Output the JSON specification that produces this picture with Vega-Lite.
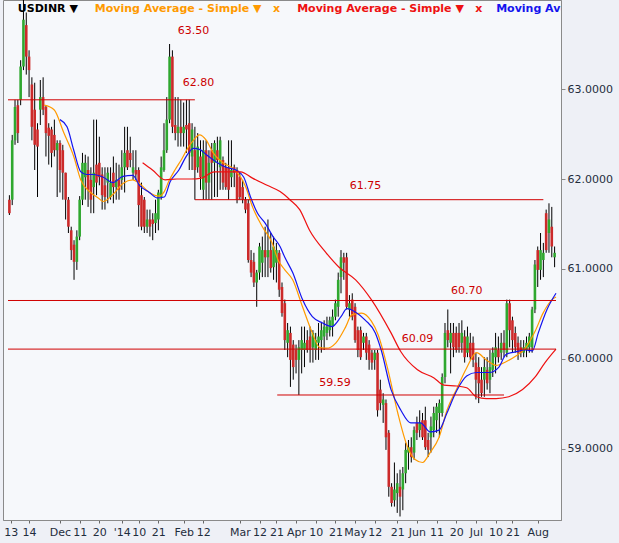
{
  "$schema": "https://vega.github.io/schema/vega-lite/v6.json",
  "width": 558,
  "height": 520,
  "autosize": {"type": "none"},
  "padding": {"left": 3, "top": 0, "right": 58, "bottom": 23},
  "background": "#eef0f6",
  "config": {
    "view": {"fill": "#f6f8fb", "stroke": "#8a8a8a"},
    "font": "DejaVu Sans"
  },
  "datasets": {
    "candles": [
      {"i":0,"o":61.77,"h":61.82,"l":61.60,"c":61.62},
      {"i":1,"o":61.77,"h":62.49,"l":61.71,"c":62.43},
      {"i":2,"o":62.43,"h":62.88,"l":62.38,"c":62.80},
      {"i":3,"o":62.82,"h":62.88,"l":62.40,"c":62.51},
      {"i":4,"o":62.88,"h":63.32,"l":62.82,"c":63.25},
      {"i":5,"o":63.25,"h":64.05,"l":63.21,"c":63.77},
      {"i":6,"o":63.71,"h":63.85,"l":63.16,"c":63.36},
      {"i":7,"o":63.36,"h":63.43,"l":62.91,"c":63.21},
      {"i":8,"o":63.05,"h":63.13,"l":62.43,"c":62.58},
      {"i":9,"o":62.77,"h":63.07,"l":62.10,"c":62.38},
      {"i":10,"o":62.55,"h":62.62,"l":61.80,"c":62.36},
      {"i":11,"o":62.77,"h":63.10,"l":62.60,"c":62.91},
      {"i":12,"o":62.91,"h":63.13,"l":62.71,"c":62.77},
      {"i":13,"o":62.80,"h":62.82,"l":62.25,"c":62.51},
      {"i":14,"o":62.57,"h":62.62,"l":62.16,"c":62.48},
      {"i":15,"o":62.55,"h":62.58,"l":62.13,"c":62.29},
      {"i":16,"o":62.49,"h":62.66,"l":62.25,"c":62.32},
      {"i":17,"o":62.32,"h":62.43,"l":61.80,"c":62.40},
      {"i":18,"o":62.40,"h":62.43,"l":61.85,"c":62.10},
      {"i":19,"o":62.32,"h":62.38,"l":61.77,"c":62.07},
      {"i":20,"o":62.07,"h":62.07,"l":61.55,"c":61.77},
      {"i":21,"o":61.77,"h":61.80,"l":61.40,"c":61.47},
      {"i":22,"o":61.43,"h":61.47,"l":61.10,"c":61.21},
      {"i":23,"o":61.27,"h":61.32,"l":60.88,"c":61.08},
      {"i":24,"o":61.08,"h":61.43,"l":60.99,"c":61.36},
      {"i":25,"o":61.36,"h":61.81,"l":61.32,"c":61.77},
      {"i":26,"o":61.77,"h":62.29,"l":61.71,"c":62.18},
      {"i":27,"o":62.02,"h":62.27,"l":61.77,"c":62.18},
      {"i":28,"o":62.10,"h":62.25,"l":61.69,"c":61.88},
      {"i":29,"o":61.99,"h":62.13,"l":61.62,"c":61.77},
      {"i":30,"o":61.91,"h":62.66,"l":61.62,"c":62.07},
      {"i":31,"o":62.16,"h":62.66,"l":61.82,"c":61.96},
      {"i":32,"o":62.18,"h":62.47,"l":61.93,"c":62.02},
      {"i":33,"o":62.05,"h":62.13,"l":61.66,"c":61.82},
      {"i":34,"o":61.93,"h":62.13,"l":61.66,"c":61.80},
      {"i":35,"o":61.96,"h":62.13,"l":61.73,"c":62.07},
      {"i":36,"o":61.80,"h":62.13,"l":61.77,"c":61.96},
      {"i":37,"o":62.07,"h":62.25,"l":61.73,"c":61.91},
      {"i":38,"o":61.91,"h":62.18,"l":61.77,"c":61.99},
      {"i":39,"o":61.99,"h":62.16,"l":61.77,"c":61.88},
      {"i":40,"o":61.99,"h":62.32,"l":61.88,"c":62.13},
      {"i":41,"o":62.13,"h":62.58,"l":61.85,"c":62.29},
      {"i":42,"o":62.32,"h":62.58,"l":62.10,"c":62.13},
      {"i":43,"o":62.29,"h":62.47,"l":62.13,"c":62.21},
      {"i":44,"o":62.07,"h":62.32,"l":61.99,"c":62.13},
      {"i":45,"o":62.10,"h":62.32,"l":61.99,"c":62.05},
      {"i":46,"o":62.10,"h":62.13,"l":61.47,"c":61.71},
      {"i":47,"o":61.82,"h":61.96,"l":61.43,"c":61.47},
      {"i":48,"o":61.77,"h":61.80,"l":61.40,"c":61.47},
      {"i":49,"o":61.47,"h":61.66,"l":61.40,"c":61.55},
      {"i":50,"o":61.55,"h":61.66,"l":61.36,"c":61.47},
      {"i":51,"o":61.55,"h":61.62,"l":61.32,"c":61.50},
      {"i":52,"o":61.51,"h":61.77,"l":61.40,"c":61.62},
      {"i":53,"o":61.55,"h":61.88,"l":61.43,"c":61.85},
      {"i":54,"o":61.80,"h":62.25,"l":61.77,"c":62.13},
      {"i":55,"o":62.10,"h":62.62,"l":62.08,"c":62.32},
      {"i":56,"o":62.32,"h":62.91,"l":62.29,"c":62.66},
      {"i":57,"o":62.66,"h":63.50,"l":62.62,"c":63.36},
      {"i":58,"o":63.36,"h":63.43,"l":62.51,"c":62.58},
      {"i":59,"o":62.60,"h":62.91,"l":62.43,"c":62.51},
      {"i":60,"o":62.51,"h":62.91,"l":62.36,"c":62.58},
      {"i":61,"o":62.58,"h":62.88,"l":62.36,"c":62.51},
      {"i":62,"o":62.51,"h":62.85,"l":62.36,"c":62.58},
      {"i":63,"o":62.60,"h":62.88,"l":62.29,"c":62.55},
      {"i":64,"o":62.62,"h":62.88,"l":62.10,"c":62.29},
      {"i":65,"o":62.25,"h":62.62,"l":62.10,"c":62.55},
      {"i":66,"o":62.32,"h":62.58,"l":61.77,"c":62.10},
      {"i":67,"o":62.13,"h":62.51,"l":62.07,"c":62.36},
      {"i":68,"o":62.25,"h":62.43,"l":61.88,"c":62.02},
      {"i":69,"o":61.88,"h":62.43,"l":61.77,"c":62.32},
      {"i":70,"o":62.32,"h":62.43,"l":61.77,"c":61.96},
      {"i":71,"o":61.96,"h":62.32,"l":61.77,"c":62.18},
      {"i":72,"o":62.32,"h":62.40,"l":61.77,"c":62.18},
      {"i":73,"o":62.18,"h":62.43,"l":61.80,"c":62.40},
      {"i":74,"o":62.32,"h":62.47,"l":61.80,"c":62.21},
      {"i":75,"o":62.13,"h":62.47,"l":61.88,"c":62.43},
      {"i":76,"o":62.21,"h":62.25,"l":61.88,"c":61.96},
      {"i":77,"o":62.13,"h":62.18,"l":61.88,"c":61.91},
      {"i":78,"o":62.13,"h":62.43,"l":61.77,"c":61.88},
      {"i":79,"o":62.02,"h":62.43,"l":61.91,"c":62.10},
      {"i":80,"o":62.13,"h":62.16,"l":61.91,"c":62.07},
      {"i":81,"o":62.10,"h":62.13,"l":61.73,"c":61.77},
      {"i":82,"o":62.02,"h":62.07,"l":61.77,"c":61.80},
      {"i":83,"o":61.91,"h":61.99,"l":61.73,"c":61.77},
      {"i":84,"o":61.77,"h":61.80,"l":61.62,"c":61.66},
      {"i":85,"o":61.73,"h":61.77,"l":61.07,"c":61.10},
      {"i":86,"o":61.10,"h":61.21,"l":60.91,"c":60.96},
      {"i":87,"o":61.08,"h":61.18,"l":60.80,"c":60.85},
      {"i":88,"o":60.85,"h":60.99,"l":60.58,"c":60.96},
      {"i":89,"o":60.96,"h":61.29,"l":60.88,"c":61.25},
      {"i":90,"o":61.07,"h":61.36,"l":60.91,"c":61.21},
      {"i":91,"o":61.21,"h":61.47,"l":60.91,"c":61.13},
      {"i":92,"o":61.13,"h":61.55,"l":60.91,"c":61.21},
      {"i":93,"o":61.21,"h":61.40,"l":60.96,"c":61.01},
      {"i":94,"o":61.02,"h":61.36,"l":60.88,"c":61.25},
      {"i":95,"o":61.07,"h":61.29,"l":60.85,"c":61.21},
      {"i":96,"o":61.18,"h":61.21,"l":60.69,"c":60.77},
      {"i":97,"o":60.80,"h":60.85,"l":60.47,"c":60.51},
      {"i":98,"o":60.62,"h":60.66,"l":60.10,"c":60.21},
      {"i":99,"o":60.18,"h":60.40,"l":60.02,"c":60.32},
      {"i":100,"o":60.29,"h":60.36,"l":59.69,"c":59.99},
      {"i":101,"o":60.16,"h":60.21,"l":59.77,"c":59.91},
      {"i":102,"o":60.10,"h":60.16,"l":59.84,"c":59.99},
      {"i":103,"o":59.99,"h":60.21,"l":59.60,"c":60.13},
      {"i":104,"o":60.10,"h":60.36,"l":59.84,"c":60.21},
      {"i":105,"o":60.10,"h":60.36,"l":59.91,"c":60.18},
      {"i":106,"o":60.21,"h":60.32,"l":60.07,"c":60.10},
      {"i":107,"o":60.25,"h":60.36,"l":59.96,"c":60.10},
      {"i":108,"o":60.13,"h":60.32,"l":59.96,"c":60.29},
      {"i":109,"o":60.10,"h":60.29,"l":59.99,"c":60.21},
      {"i":110,"o":60.18,"h":60.40,"l":59.99,"c":60.25},
      {"i":111,"o":60.21,"h":60.40,"l":60.07,"c":60.32},
      {"i":112,"o":60.25,"h":60.43,"l":60.10,"c":60.36},
      {"i":113,"o":60.29,"h":60.47,"l":60.21,"c":60.36},
      {"i":114,"o":60.32,"h":60.47,"l":60.25,"c":60.43},
      {"i":115,"o":60.36,"h":60.55,"l":60.25,"c":60.47},
      {"i":116,"o":60.47,"h":60.66,"l":60.43,"c":60.62},
      {"i":117,"o":60.58,"h":60.96,"l":60.47,"c":60.88},
      {"i":118,"o":60.91,"h":61.21,"l":60.73,"c":61.13},
      {"i":119,"o":61.13,"h":61.18,"l":60.88,"c":61.07},
      {"i":120,"o":61.13,"h":61.18,"l":60.55,"c":60.58},
      {"i":121,"o":60.55,"h":60.71,"l":60.47,"c":60.62},
      {"i":122,"o":60.66,"h":60.73,"l":60.43,"c":60.47},
      {"i":123,"o":60.58,"h":60.62,"l":60.18,"c":60.21},
      {"i":124,"o":60.32,"h":60.36,"l":60.02,"c":60.10},
      {"i":125,"o":60.32,"h":60.36,"l":59.99,"c":60.02},
      {"i":126,"o":60.18,"h":60.29,"l":60.10,"c":60.25},
      {"i":127,"o":60.25,"h":60.29,"l":59.99,"c":60.07},
      {"i":128,"o":60.16,"h":60.21,"l":59.88,"c":59.99},
      {"i":129,"o":60.07,"h":60.10,"l":59.88,"c":59.96},
      {"i":130,"o":59.99,"h":60.10,"l":59.88,"c":60.07},
      {"i":131,"o":60.07,"h":60.10,"l":59.36,"c":59.43},
      {"i":132,"o":59.66,"h":59.77,"l":59.43,"c":59.51},
      {"i":133,"o":59.49,"h":59.62,"l":59.29,"c":59.55},
      {"i":134,"o":59.51,"h":59.55,"l":58.99,"c":59.13},
      {"i":135,"o":59.18,"h":59.21,"l":58.47,"c":58.58},
      {"i":136,"o":58.58,"h":58.62,"l":58.36,"c":58.40},
      {"i":137,"o":58.43,"h":58.85,"l":58.36,"c":58.55},
      {"i":138,"o":58.51,"h":58.73,"l":58.29,"c":58.62},
      {"i":139,"o":58.58,"h":58.77,"l":58.25,"c":58.47},
      {"i":140,"o":58.55,"h":58.80,"l":58.32,"c":58.73},
      {"i":141,"o":58.73,"h":59.07,"l":58.62,"c":58.99},
      {"i":142,"o":58.96,"h":59.10,"l":58.77,"c":59.02},
      {"i":143,"o":59.02,"h":59.13,"l":58.85,"c":58.91},
      {"i":144,"o":58.96,"h":59.25,"l":58.88,"c":59.21},
      {"i":145,"o":59.29,"h":59.36,"l":59.10,"c":59.18},
      {"i":146,"o":59.21,"h":59.43,"l":59.13,"c":59.29},
      {"i":147,"o":59.32,"h":59.40,"l":59.10,"c":59.13},
      {"i":148,"o":59.32,"h":59.47,"l":58.99,"c":59.02},
      {"i":149,"o":59.10,"h":59.18,"l":58.91,"c":58.99},
      {"i":150,"o":59.13,"h":59.36,"l":58.96,"c":59.25},
      {"i":151,"o":59.21,"h":59.47,"l":59.13,"c":59.40},
      {"i":152,"o":59.32,"h":59.51,"l":59.18,"c":59.47},
      {"i":153,"o":59.40,"h":59.55,"l":59.13,"c":59.51},
      {"i":154,"o":59.40,"h":59.84,"l":59.36,"c":59.80},
      {"i":155,"o":59.80,"h":60.40,"l":59.73,"c":60.29},
      {"i":156,"o":60.32,"h":60.55,"l":60.13,"c":60.21},
      {"i":157,"o":60.18,"h":60.40,"l":59.84,"c":60.29},
      {"i":158,"o":60.29,"h":60.40,"l":60.02,"c":60.13},
      {"i":159,"o":60.29,"h":60.36,"l":60.07,"c":60.10},
      {"i":160,"o":60.29,"h":60.40,"l":60.07,"c":60.13},
      {"i":161,"o":60.18,"h":60.43,"l":60.07,"c":60.29},
      {"i":162,"o":60.25,"h":60.32,"l":59.96,"c":60.02},
      {"i":163,"o":60.07,"h":60.36,"l":60.02,"c":60.25},
      {"i":164,"o":60.18,"h":60.29,"l":59.99,"c":60.02},
      {"i":165,"o":60.18,"h":60.25,"l":59.91,"c":59.99},
      {"i":166,"o":59.96,"h":60.07,"l":59.55,"c":59.77},
      {"i":167,"o":59.91,"h":60.02,"l":59.51,"c":59.73},
      {"i":168,"o":59.77,"h":59.91,"l":59.58,"c":59.62},
      {"i":169,"o":59.77,"h":60.02,"l":59.58,"c":59.91},
      {"i":170,"o":59.88,"h":60.02,"l":59.66,"c":59.73},
      {"i":171,"o":59.77,"h":60.10,"l":59.62,"c":59.91},
      {"i":172,"o":59.88,"h":60.13,"l":59.80,"c":60.07},
      {"i":173,"o":60.02,"h":60.29,"l":59.84,"c":60.13},
      {"i":174,"o":60.10,"h":60.25,"l":59.96,"c":60.02},
      {"i":175,"o":60.07,"h":60.29,"l":59.99,"c":60.18},
      {"i":176,"o":60.18,"h":60.32,"l":60.02,"c":60.10},
      {"i":177,"o":60.07,"h":60.66,"l":60.02,"c":60.62},
      {"i":178,"o":60.62,"h":60.66,"l":60.13,"c":60.32},
      {"i":179,"o":60.43,"h":60.47,"l":60.07,"c":60.21},
      {"i":180,"o":60.29,"h":60.36,"l":60.07,"c":60.13},
      {"i":181,"o":60.18,"h":60.25,"l":59.99,"c":60.07},
      {"i":182,"o":60.13,"h":60.21,"l":60.02,"c":60.07},
      {"i":183,"o":60.07,"h":60.21,"l":60.02,"c":60.13},
      {"i":184,"o":60.10,"h":60.25,"l":60.02,"c":60.18},
      {"i":185,"o":60.13,"h":60.29,"l":60.07,"c":60.25},
      {"i":186,"o":60.13,"h":60.58,"l":60.07,"c":60.55},
      {"i":187,"o":60.55,"h":61.10,"l":60.51,"c":61.05},
      {"i":188,"o":61.21,"h":61.25,"l":60.80,"c":60.99},
      {"i":189,"o":60.99,"h":61.40,"l":60.88,"c":61.21},
      {"i":190,"o":61.10,"h":61.29,"l":60.91,"c":61.18},
      {"i":191,"o":61.62,"h":61.66,"l":61.18,"c":61.21},
      {"i":192,"o":61.40,"h":61.73,"l":61.18,"c":61.55},
      {"i":193,"o":61.47,"h":61.69,"l":61.13,"c":61.25},
      {"i":194,"o":61.13,"h":61.25,"l":61.02,"c":61.18}
    ],
    "ma": [
      {"s":"short","i":12.4,"v":62.82},{"s":"short","i":15.9,"v":62.77},{"s":"short","i":19.4,"v":62.51},{"s":"short","i":22.9,"v":62.25},{"s":"short","i":25.4,"v":61.99},{"s":"short","i":28.9,"v":61.85},{"s":"short","i":31.6,"v":61.79},{"s":"short","i":33.4,"v":61.75},{"s":"short","i":36.9,"v":61.83},{"s":"short","i":40.4,"v":61.95},{"s":"short","i":43.9,"v":61.99},{"s":"short","i":46.3,"v":61.95},{"s":"short","i":49.8,"v":61.85},{"s":"short","i":53.3,"v":61.81},{"s":"short","i":55.1,"v":61.86},{"s":"short","i":56.8,"v":61.98},{"s":"short","i":58.9,"v":62.10},{"s":"short","i":61.3,"v":62.22},{"s":"short","i":63.8,"v":62.36},{"s":"short","i":65.5,"v":62.43},{"s":"short","i":67.6,"v":62.49},{"s":"short","i":70.1,"v":62.43},{"s":"short","i":72.5,"v":62.29},{"s":"short","i":76.0,"v":62.18},{"s":"short","i":79.5,"v":62.12},{"s":"short","i":82.3,"v":62.02},{"s":"short","i":84.1,"v":61.91},{"s":"short","i":86.5,"v":61.69},{"s":"short","i":90.0,"v":61.47},{"s":"short","i":93.5,"v":61.29},{"s":"short","i":95.6,"v":61.10},{"s":"short","i":98.0,"v":60.99},{"s":"short","i":100.8,"v":60.88},{"s":"short","i":104.3,"v":60.58},{"s":"short","i":107.8,"v":60.29},{"s":"short","i":110.3,"v":60.13},{"s":"short","i":112.8,"v":60.12},{"s":"short","i":116.2,"v":60.18},{"s":"short","i":119.7,"v":60.36},{"s":"short","i":121.8,"v":60.49},{"s":"short","i":125.3,"v":60.51},{"s":"short","i":128.8,"v":60.42},{"s":"short","i":131.2,"v":60.27},{"s":"short","i":134.7,"v":59.88},{"s":"short","i":138.2,"v":59.40},{"s":"short","i":141.7,"v":59.02},{"s":"short","i":144.5,"v":58.88},{"s":"short","i":147.0,"v":58.85},{"s":"short","i":149.7,"v":58.96},{"s":"short","i":152.9,"v":59.13},{"s":"short","i":155.7,"v":59.43},{"s":"short","i":159.2,"v":59.67},{"s":"short","i":162.7,"v":59.90},{"s":"short","i":166.2,"v":60.07},{"s":"short","i":169.7,"v":59.99},{"s":"short","i":173.2,"v":59.93},{"s":"short","i":176.7,"v":59.97},{"s":"short","i":180.1,"v":60.03},{"s":"short","i":183.6,"v":60.12},{"s":"short","i":187.1,"v":60.31},{"s":"short","i":189.9,"v":60.51},{"s":"short","i":193.1,"v":60.66},{"s":"short","i":194.5,"v":60.69},
      {"s":"medium","i":18.0,"v":62.66},{"s":"medium","i":20.5,"v":62.58},{"s":"medium","i":22.9,"v":62.32},{"s":"medium","i":25.4,"v":62.08},{"s":"medium","i":27.5,"v":62.05},{"s":"medium","i":29.9,"v":62.05},{"s":"medium","i":33.4,"v":62.02},{"s":"medium","i":36.9,"v":61.96},{"s":"medium","i":40.4,"v":62.03},{"s":"medium","i":43.9,"v":62.04},{"s":"medium","i":46.3,"v":61.93},{"s":"medium","i":49.8,"v":61.85},{"s":"medium","i":52.6,"v":61.79},{"s":"medium","i":55.1,"v":61.80},{"s":"medium","i":57.2,"v":61.97},{"s":"medium","i":60.3,"v":62.10},{"s":"medium","i":63.1,"v":62.26},{"s":"medium","i":65.5,"v":62.34},{"s":"medium","i":67.6,"v":62.33},{"s":"medium","i":70.1,"v":62.27},{"s":"medium","i":73.6,"v":62.19},{"s":"medium","i":77.1,"v":62.13},{"s":"medium","i":80.6,"v":62.10},{"s":"medium","i":83.4,"v":62.02},{"s":"medium","i":85.8,"v":61.80},{"s":"medium","i":88.3,"v":61.62},{"s":"medium","i":91.0,"v":61.51},{"s":"medium","i":93.8,"v":61.36},{"s":"medium","i":96.3,"v":61.25},{"s":"medium","i":98.0,"v":61.13},{"s":"medium","i":100.8,"v":60.96},{"s":"medium","i":104.3,"v":60.66},{"s":"medium","i":107.8,"v":60.47},{"s":"medium","i":111.4,"v":60.40},{"s":"medium","i":114.8,"v":60.36},{"s":"medium","i":118.0,"v":60.47},{"s":"medium","i":120.1,"v":60.56},{"s":"medium","i":123.2,"v":60.52},{"s":"medium","i":126.7,"v":60.43},{"s":"medium","i":130.2,"v":60.29},{"s":"medium","i":132.3,"v":60.10},{"s":"medium","i":135.8,"v":59.66},{"s":"medium","i":139.3,"v":59.43},{"s":"medium","i":142.8,"v":59.29},{"s":"medium","i":146.3,"v":59.29},{"s":"medium","i":149.7,"v":59.19},{"s":"medium","i":152.9,"v":59.21},{"s":"medium","i":155.7,"v":59.40},{"s":"medium","i":159.2,"v":59.65},{"s":"medium","i":162.7,"v":59.81},{"s":"medium","i":166.2,"v":59.85},{"s":"medium","i":170.7,"v":59.85},{"s":"medium","i":174.2,"v":59.91},{"s":"medium","i":176.7,"v":60.05},{"s":"medium","i":180.1,"v":60.08},{"s":"medium","i":183.6,"v":60.10},{"s":"medium","i":186.1,"v":60.09},{"s":"medium","i":188.2,"v":60.29},{"s":"medium","i":191.3,"v":60.55},{"s":"medium","i":194.5,"v":60.73},
      {"s":"long","i":47.4,"v":62.18},{"s":"long","i":50.9,"v":62.10},{"s":"long","i":55.4,"v":61.99},{"s":"long","i":59.6,"v":62.00},{"s":"long","i":64.8,"v":62.00},{"s":"long","i":68.3,"v":62.01},{"s":"long","i":72.9,"v":62.08},{"s":"long","i":82.3,"v":62.08},{"s":"long","i":86.5,"v":62.01},{"s":"long","i":91.7,"v":61.93},{"s":"long","i":96.3,"v":61.86},{"s":"long","i":99.8,"v":61.77},{"s":"long","i":103.3,"v":61.66},{"s":"long","i":106.8,"v":61.43},{"s":"long","i":112.7,"v":61.18},{"s":"long","i":117.3,"v":61.02},{"s":"long","i":123.2,"v":60.88},{"s":"long","i":128.8,"v":60.66},{"s":"long","i":135.8,"v":60.29},{"s":"long","i":139.3,"v":60.08},{"s":"long","i":145.2,"v":59.88},{"s":"long","i":151.1,"v":59.79},{"s":"long","i":154.6,"v":59.71},{"s":"long","i":159.2,"v":59.70},{"s":"long","i":162.7,"v":59.68},{"s":"long","i":166.2,"v":59.58},{"s":"long","i":169.7,"v":59.56},{"s":"long","i":173.2,"v":59.56},{"s":"long","i":177.7,"v":59.58},{"s":"long","i":182.6,"v":59.66},{"s":"long","i":187.1,"v":59.80},{"s":"long","i":190.6,"v":59.96},{"s":"long","i":194.5,"v":60.11}
    ],
    "levels": [
      {"level":62.88,"from":-0.5,"to":66},
      {"level":61.77,"from":66,"to":190},
      {"level":60.65,"from":-0.5,"to":194.5},
      {"level":60.11,"from":-0.5,"to":194.5},
      {"level":59.60,"from":95.3,"to":176}
    ],
    "notes": [
      {"t":"63.50","i":65.5,"p":63.65},
      {"t":"62.80","i":67.3,"p":63.07},
      {"t":"61.75","i":126.7,"p":61.92},
      {"t":"60.70","i":162.7,"p":60.76},
      {"t":"60.09","i":145.2,"p":60.22},
      {"t":"59.59","i":115.9,"p":59.73}
    ],
    "header": [
      {"s":"price","t":"USDINR ▼","i":3.0},
      {"s":"short","t":"Moving Average - Simple ▼\u00a0\u00a0\u00a0x","i":30.4},
      {"s":"long","t":"Moving Average - Simple ▼\u00a0\u00a0\u00a0x","i":102.4},
      {"s":"medium","t":"Moving Average - Simple ▼","i":173.2}
    ]
  },
  "encoding": {
    "x": {
      "type": "quantitative",
      "scale": {"domain": [-0.5, 194.5], "nice": false, "zero": false},
      "axis": {
        "title": null,
        "grid": false,
        "values": [0.5,7,18,25,32,40,46,53,62,69,82,89,95,102,109,116,123,130,138,145,152,159,166,173,179,188],
        "labelExpr": "['13','14','Dec','11','20',\"'14\",'10','21','Feb','12','Mar','12','21','Apr','10','21','May','12','21','Jun','11','20','Jul','10','21','Aug'][indexof([0.5,7,18,25,32,40,46,53,62,69,82,89,95,102,109,116,123,130,138,145,152,159,166,173,179,188], datum.value)]",
        "labelOverlap": false,
        "labelFlush": false,
        "tickSize": 3,
        "tickColor": "#666666",
        "domainColor": "#8a8a8a",
        "labelColor": "#1f2d3d",
        "labelFont": "DejaVu Sans",
        "labelFontSize": 11,
        "labelPadding": 3
      }
    },
    "y": {
      "type": "quantitative",
      "scale": {"domain": [58.211, 63.989], "nice": false, "zero": false},
      "axis": {
        "orient": "right",
        "title": null,
        "grid": false,
        "values": [59, 60, 61, 62, 63],
        "format": ".4f",
        "tickSize": 4,
        "tickColor": "#8a8a8a",
        "domainColor": "#8a8a8a",
        "labelColor": "#1f2d3d",
        "labelFont": "DejaVu Sans",
        "labelFontSize": 11,
        "labelPadding": 2
      }
    }
  },
  "layer": [
    {
      "data": {"name": "candles"},
      "mark": {"type": "rule", "color": "#000000", "strokeWidth": 1, "clip": true},
      "encoding": {
        "x": {"field": "i"},
        "y": {"field": "l"},
        "y2": {"field": "h"}
      }
    },
    {
      "data": {"name": "candles"},
      "mark": {"type": "bar", "size": 2.6, "clip": true},
      "encoding": {
        "x": {"field": "i"},
        "y": {"field": "o"},
        "y2": {"field": "c"},
        "color": {
          "condition": {"test": "datum.c >= datum.o", "value": "#2fa82f"},
          "value": "#cc2a2a"
        }
      }
    },
    {
      "data": {"name": "ma"},
      "mark": {"type": "line", "strokeWidth": 1.2, "clip": true, "interpolate": "monotone"},
      "encoding": {
        "x": {"field": "i"},
        "y": {"field": "v"},
        "color": {
          "field": "s",
          "type": "nominal",
          "scale": {"domain": ["price", "short", "long", "medium"], "range": ["#000000", "#ff9a00", "#ee1111", "#1414ee"]},
          "legend": null
        }
      }
    },
    {
      "data": {"name": "levels"},
      "mark": {"type": "rule", "color": "#d00000", "strokeWidth": 1, "clip": true},
      "encoding": {
        "x": {"field": "from"},
        "x2": {"field": "to"},
        "y": {"field": "level"}
      }
    },
    {
      "data": {"name": "notes"},
      "mark": {"type": "text", "color": "#cc0000", "font": "DejaVu Sans", "fontSize": 11, "align": "center", "baseline": "middle"},
      "encoding": {
        "x": {"field": "i"},
        "y": {"field": "p"},
        "text": {"field": "t"}
      }
    },
    {
      "data": {"name": "header"},
      "mark": {"type": "text", "font": "DejaVu Sans", "fontSize": 11, "fontWeight": "bold", "align": "left", "baseline": "middle", "clip": true},
      "encoding": {
        "x": {"field": "i"},
        "y": {"datum": 63.89},
        "text": {"field": "t"},
        "color": {"field": "s", "type": "nominal", "legend": null}
      }
    }
  ]
}
